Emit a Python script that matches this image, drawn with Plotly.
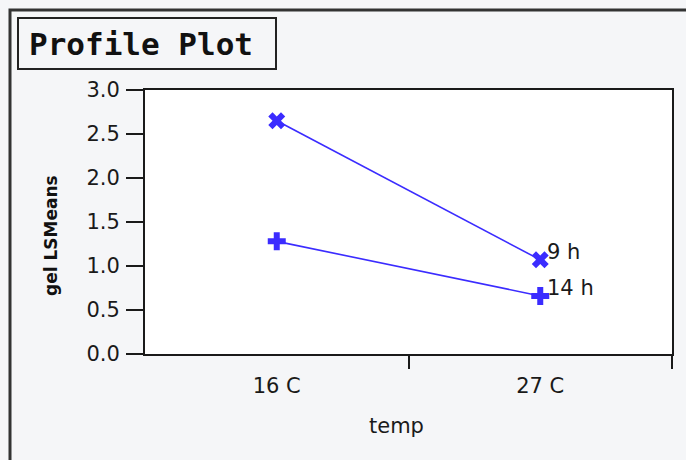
import plotly.graph_objects as go

# Category axis and series values (LS means per temperature)
temps = ["16 C", "27 C"]
series_names = ["9 h", "14 h"]
means_9h = [2.65, 1.07]
means_14h = [1.28, 0.66]
y_ticks = [0.0, 0.5, 1.0, 1.5, 2.0, 2.5, 3.0]

# Page geometry (pixels)
W, H = 686, 460
L, R, T, B = 145, 672, 90, 354
PW, PH = R - L, B - T


def px(x):
    return (x - L) / PW


def py(y):
    return (B - y) / PH


xpos = [i + 0.5 for i in range(len(temps))]
blue = "#3b2cff"
ink = "#1a1a1a"
font = "DejaVu Sans"

fig = go.Figure()
symbols = ["x", "cross"]
for name, vals, sym in zip(series_names, [means_9h, means_14h], symbols):
    fig.add_trace(go.Scatter(
        x=xpos, y=vals, mode="lines+markers", name=name,
        line=dict(color=blue, width=1.6),
        marker=dict(symbol=sym, size=15, color=blue, line=dict(width=0)),
        showlegend=False,
    ))
    fig.add_annotation(x=xpos[-1], y=vals[-1], text=name, showarrow=False,
                       xanchor="left", yanchor="middle", xshift=5, yshift=8,
                       font=dict(family=font, size=21, color=ink))

fig.update_xaxes(
    range=[0, len(temps)], tickmode="array", tickvals=xpos, ticktext=temps,
    ticks="", showgrid=False, zeroline=False, fixedrange=True,
    showline=True, linecolor=ink, linewidth=2, mirror=True,
    ticklabelstandoff=12,
    tickfont=dict(family=font, size=21, color=ink),
    minor=dict(tickmode="array", tickvals=[1, 2], ticks="outside",
               ticklen=13, tickwidth=2, tickcolor=ink, showgrid=False),
)
fig.update_yaxes(
    range=[0, 3], tickmode="array", tickvals=y_ticks,
    ticktext=[f"{v:.1f}" for v in y_ticks],
    ticks="outside", ticklen=17, tickwidth=2, tickcolor=ink,
    showgrid=False, zeroline=False, fixedrange=True,
    showline=True, linecolor=ink, linewidth=2, mirror=True,
    ticklabelstandoff=2,
    tickfont=dict(family=font, size=21, color=ink),
)

shapes = [
    # outer panel frame
    dict(type="rect", xref="paper", yref="paper",
         x0=px(10), y0=py(475), x1=px(700), y1=py(10),
         line=dict(color="#333333", width=3), layer="below"),
    # title box
    dict(type="rect", xref="paper", yref="paper",
         x0=px(18), y0=py(69), x1=px(276), y1=py(18),
         line=dict(color="#222222", width=2)),
]

annotations = [
    dict(text="<b>Profile Plot</b>", xref="paper", yref="paper",
         x=px(27), y=py(44), xanchor="left", yanchor="middle",
         showarrow=False,
         font=dict(family="DejaVu Sans Mono", size=31, color="#111111")),
    dict(text="temp", xref="paper", yref="paper",
         x=px(396), y=py(426), xanchor="center", yanchor="middle",
         showarrow=False, font=dict(family=font, size=21, color=ink)),
    dict(text="<b>gel LSMeans</b>", xref="paper", yref="paper",
         x=px(51), y=py(236), xanchor="center", yanchor="middle",
         textangle=-90, showarrow=False,
         font=dict(family=font, size=17, color="#111111")),
]

fig.update_layout(
    width=W, height=H,
    margin=dict(l=L, r=W - R, t=T, b=H - B, pad=0),
    paper_bgcolor="#f5f6f8", plot_bgcolor="white",
    shapes=shapes,
    annotations=list(fig.layout.annotations) + annotations,
)

fig.write_html("out.html")
